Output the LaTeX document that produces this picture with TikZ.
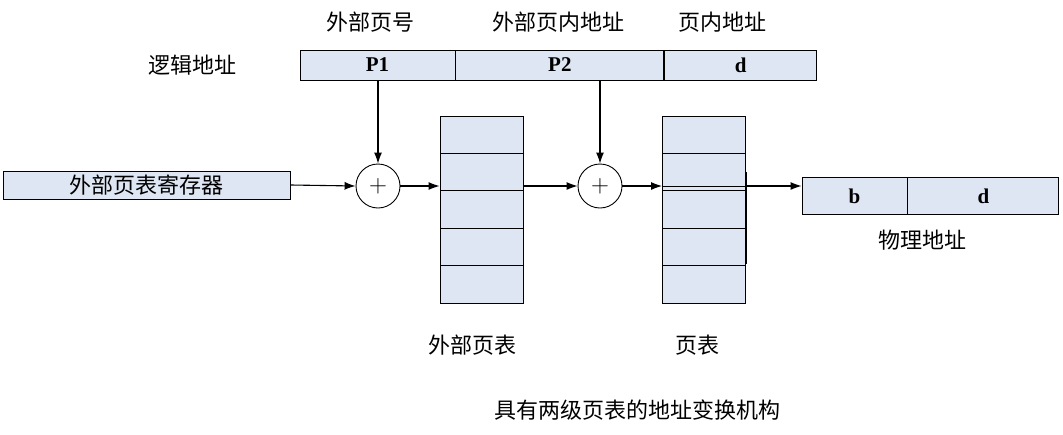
\documentclass[tikz,border=0pt]{standalone}
\usepackage{fontspec}
\setmainfont{Liberation Serif}
\newfontfamily\cjk{Noto Sans CJK SC}
\usetikzlibrary{positioning, arrows.meta}
\definecolor{cellblue}{RGB}{221,230,242}

\begin{document}
\begin{tikzpicture}
[
    x=1pt, y=-1pt, line width=0.9pt,
    cell/.style={draw, fill=cellblue, minimum height=30pt, inner sep=0pt, font=\bfseries\fontsize{21}{21}\selectfont},
    row/.style={draw, fill=cellblue, minimum width=83pt, minimum height=37.4pt, inner sep=0pt},
    adder/.style={draw, circle, fill=white, minimum size=44pt, inner sep=0pt, font=\fontsize{28}{28}\selectfont},
    lbl/.style={font=\cjk\fontsize{22}{22}\selectfont},
    arr/.style={-{Latex[length=11pt, width=8pt]}, line width=1.1pt},
]
\useasboundingbox (0,0) rectangle (1063,434);
% logical address
\node [cell, minimum width=155pt] (p1) at (377.5,65) {P1};
\node [cell, minimum width=208pt, right=0pt of p1] (p2) {P2};
\node [cell, minimum width=152pt, right=0pt of p2] (d1) {d};
\node [lbl] at (370,22) {外部页号};
\node [lbl] at (558,22) {外部页内地址};
\node [lbl] at (722,22) {页内地址};
\node [lbl] (la) at (192,65) {逻辑地址};
% register and adders
\node [cell, minimum width=287pt, minimum height=28pt, font=\cjk\fontsize{22}{22}\selectfont] (reg) at (146.5,185) {外部页表寄存器};
\node [adder] (add1) at (378,186) {$+$};
\node [adder] (add2) at (600,186) {$+$};
% outer page table and page table
\foreach \i in {1,...,5} {
    \node [row] (o\i) at (481.5,{116+37.4*(\i-0.5)}) {};
    \node [row] (t\i) at (704,{116+37.4*(\i-0.5)}) {};
}
\node [lbl] at (472,345) {外部页表};
\node [lbl] at (697,345) {页表};
% physical address
\node [cell, minimum width=105pt, minimum height=37pt] (b) at (854.5,196) {b};
\node [cell, minimum width=151pt, minimum height=37pt, right=0pt of b] (d2) {d};
\node [lbl] at (922,240) {物理地址};
\node [lbl] at (637,410) {具有两级页表的地址变换机构};
% connectors
\draw [arr] (p1.south -| add1) -- (add1.north);
\draw [arr] (p2.south -| add2) -- (add2.north);
\draw [arr] (reg.east) -- (add1.west);
\draw [arr] (add1.east) -- (add1.east -| o3.west);
\draw [arr] (add1.east -| o3.east) -- (add2.west);
\draw [arr] (add2.east) -- (add2.east -| t3.west);
\coordinate (tr) at (t3.east |- add2.east);
\draw (t3.west |- tr) -- (tr);
\draw [line width=1.8pt] ([yshift=14pt]tr) -- ([yshift=-78pt]tr);
\draw [arr] (tr) -- (tr -| b.west);
\end{tikzpicture}
\end{document}
